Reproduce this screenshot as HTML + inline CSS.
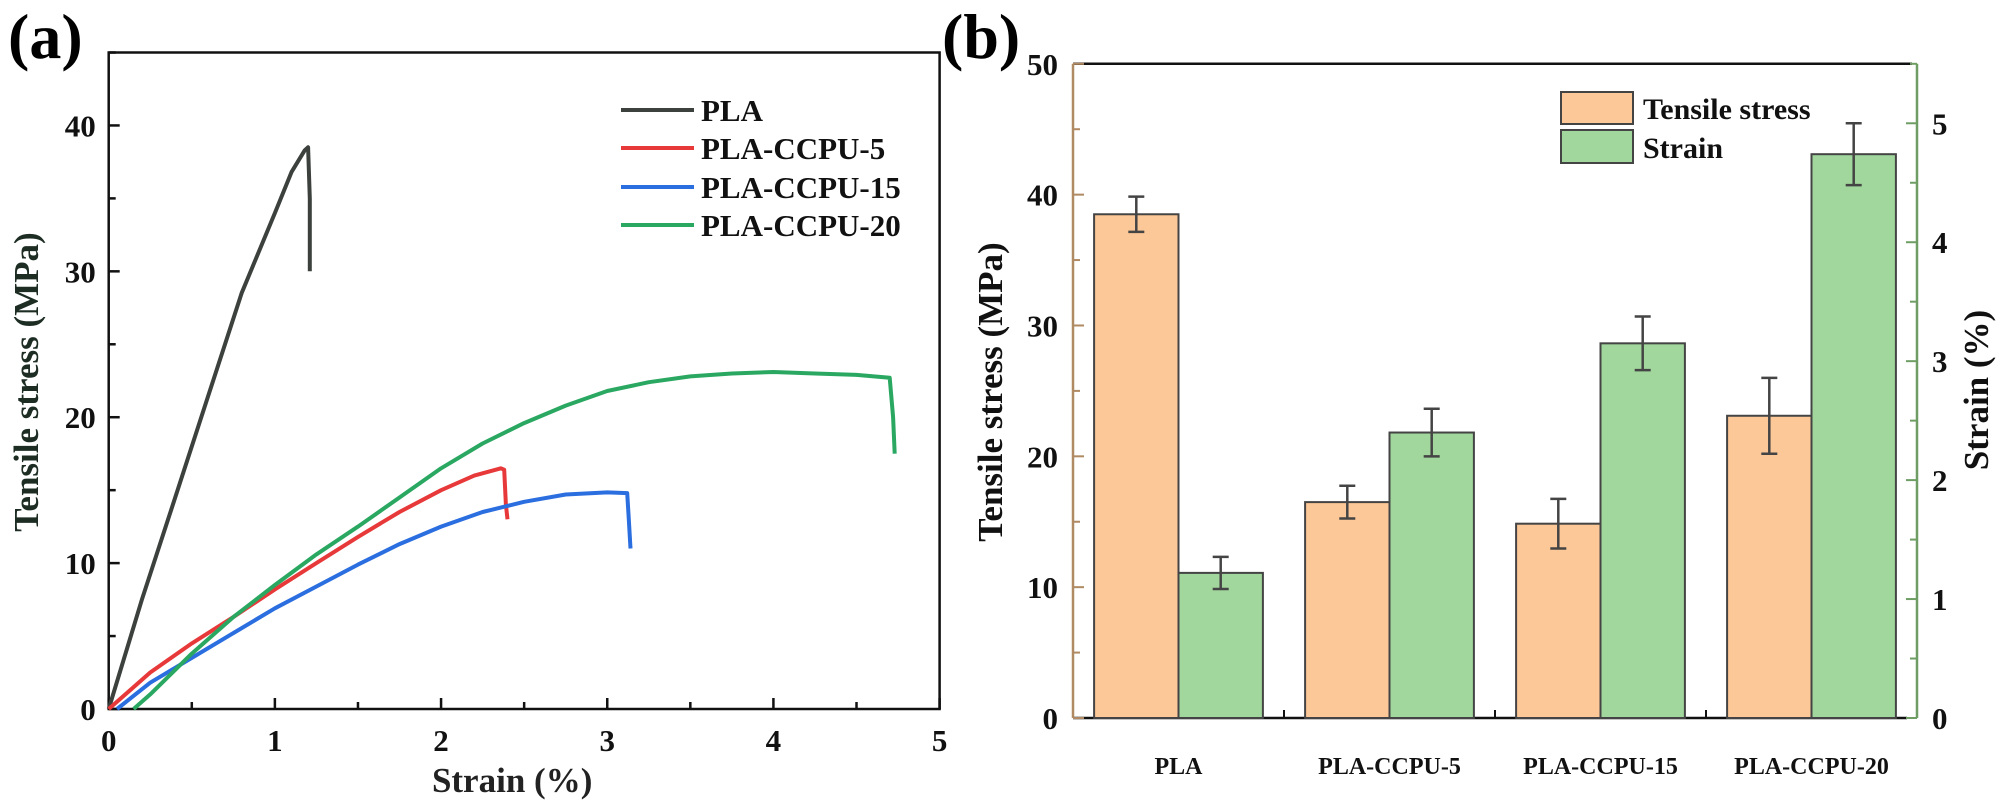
<!DOCTYPE html>
<html><head><meta charset="utf-8"><style>
html,body{margin:0;padding:0;background:#fff}
svg{display:block}
text{font-family:"Liberation Serif",serif;font-weight:bold}
</style></head><body>
<svg id="chart" width="2000" height="811" viewBox="0 0 2000 811" xmlns="http://www.w3.org/2000/svg">
<g id="pa"></g>
<g id="pb"></g>
</svg>
<script>
// Panel (a) data
const plaX=[0,0.2,0.4,0.6,0.8,1.0,1.1,1.18,1.2,1.21,1.21];
const plaY=[0,7.5,14.5,21.5,28.5,34,36.8,38.3,38.5,35,30];
const p5X=[0,0.25,0.5,0.75,1,1.25,1.5,1.75,2,2.2,2.36,2.38,2.39,2.4];
const p5Y=[0,2.5,4.5,6.3,8.2,10,11.8,13.5,15,16,16.5,16.4,14,13];
const p15X=[0.05,0.25,0.5,0.75,1,1.25,1.5,1.75,2,2.25,2.5,2.75,3,3.12,3.13,3.14];
const p15Y=[0,1.8,3.5,5.2,6.9,8.4,9.9,11.3,12.5,13.5,14.2,14.7,14.85,14.8,13,11];
const p20X=[0.15,0.25,0.5,0.75,1,1.25,1.5,1.75,2,2.25,2.5,2.75,3,3.25,3.5,3.75,4,4.25,4.5,4.7,4.72,4.73];
const p20Y=[0,1,3.8,6.3,8.5,10.6,12.5,14.5,16.5,18.2,19.6,20.8,21.8,22.4,22.8,23,23.1,23,22.9,22.7,20,17.5];
const seriesNames=["PLA","PLA-CCPU-5","PLA-CCPU-15","PLA-CCPU-20"];
const xTicksA=[0,1,2,3,4,5];
const yTicksA=[0,10,20,30,40];
// Panel (b) data
const categories=["PLA","PLA-CCPU-5","PLA-CCPU-15","PLA-CCPU-20"];
const stress=[38.5,16.5,14.85,23.1];
const stressErr=[1.35,1.25,1.9,2.9];
const strain=[1.22,2.4,3.15,4.74];
const strainErr=[0.135,0.2,0.225,0.26];
const yTicksBL=[0,10,20,30,40,50];
const yTicksBR=[0,1,2,3,4,5];

const NS="http://www.w3.org/2000/svg";
function mk(parent,tag,attrs,name,txt){
  const e=document.createElementNS(NS,tag);
  for(const k in attrs)e.setAttribute(k,attrs[k]);
  
  
  if(txt!==undefined)e.textContent=txt;
  parent.appendChild(e);return e;
}
// ---- Panel A
const A=document.getElementById('pa');
const ax0=108.7,ax1=939.6,ay0=709,ay1=52.5;
const xA=v=>ax0+(ax1-ax0)*v/5;
const yA=v=>ay0-(ay0-ay1)*v/45;
mk(A,'text',{x:8,y:58,'font-size':64},'panel-a-label','(a)');
mk(A,'rect',{x:ax0,y:ay1,width:ax1-ax0,height:ay0-ay1,fill:'none',stroke:'#111','stroke-width':2.5},'plot-frame-a');
for(let v=0;v<=5;v+=0.5){const x=xA(v);const L=Number.isInteger(v)?11:7;
  mk(A,'line',{x1:x,y1:ay0,x2:x,y2:ay0-L,stroke:'#111','stroke-width':2.5},'x-tick-a');}
for(let v=0;v<=45;v+=5){const y=yA(v);const L=v%10===0?11:7;
  mk(A,'line',{x1:ax0,y1:y,x2:ax0+L,y2:y,stroke:'#111','stroke-width':2.5},'y-tick-a');}
xTicksA.forEach(v=>mk(A,'text',{x:xA(v),y:ay0+42,'font-size':31,'text-anchor':'middle',fill:'#111'},'x-tick-label-a',String(v)));
yTicksA.forEach(v=>mk(A,'text',{x:ax0-13,y:yA(v)+11,'font-size':31,'text-anchor':'end',fill:'#111'},'y-tick-label-a',String(v)));
mk(A,'text',{x:(ax0+ax1)/2-12,y:792,'font-size':35,'text-anchor':'middle',fill:'#222'},'x-axis-title-a','Strain (%)');
mk(A,'text',{x:0,y:0,'font-size':35,'text-anchor':'middle',fill:'#1d2d24',transform:'translate(38,382) rotate(-90)'},'y-axis-title-a','Tensile stress (MPa)');
const colors=["#3c413e","#e8393a","#2b6ee0","#2aa862"];
const xs=[plaX,p5X,p15X,p20X],ys=[plaY,p5Y,p15Y,p20Y];
xs.forEach((X,i)=>{const d=X.map((v,j)=>(j?'L':'M')+xA(v).toFixed(1)+','+yA(ys[i][j]).toFixed(1)).join(' ');
  mk(A,'path',{d:d,fill:'none',stroke:colors[i],'stroke-width':4,'stroke-linejoin':'round'},'curve-'+seriesNames[i].toLowerCase());});
const legY=[110,148,187,225];
seriesNames.forEach((n,i)=>{
  mk(A,'line',{x1:621,y1:legY[i],x2:694,y2:legY[i],stroke:colors[i],'stroke-width':4},'legend-line-'+i);
  mk(A,'text',{x:701,y:legY[i]+11,'font-size':31,fill:'#111'},'legend-label-'+i,n);});
// ---- Panel B
const B=document.getElementById('pb');
const bx0=1073,bx1=1917,by0=718,by1=63.8;
const band=(bx1-bx0)/4;
const yL=v=>by0-(by0-by1)*v/50;
const yR=v=>by0-(by0-by1)*v/5.5;
mk(B,'text',{x:942,y:58,'font-size':64},'panel-b-label','(b)');
mk(B,'line',{x1:bx0,y1:by1,x2:bx1-5,y2:by1,stroke:'#111','stroke-width':2.5},'top-frame-b');
mk(B,'line',{x1:bx0,y1:by0,x2:bx1-10,y2:by0,stroke:'#111','stroke-width':2.5},'x-axis-b');
mk(B,'line',{x1:bx0,y1:by1,x2:bx0,y2:by0,stroke:'#b08a62','stroke-width':2.5},'left-axis-b');
mk(B,'line',{x1:bx1,y1:by1,x2:bx1,y2:by0,stroke:'#6f9e64','stroke-width':2.5},'right-axis-b');
for(let v=0;v<=50;v+=5){const y=yL(v);const L=v%10===0?11:7;
  mk(B,'line',{x1:bx0,y1:y,x2:bx0+L,y2:y,stroke:'#b08a62','stroke-width':2},'y-tick-left-b');}
for(let v=0;v<=5.5;v+=0.5){const y=yR(v);const L=Number.isInteger(v)?11:7;
  mk(B,'line',{x1:bx1,y1:y,x2:bx1-L,y2:y,stroke:'#6f9e64','stroke-width':2},'y-tick-right-b');}
yTicksBL.forEach(v=>mk(B,'text',{x:bx0-15,y:yL(v)+11,'font-size':31,'text-anchor':'end',fill:'#111'},'y-tick-label-left-b',String(v)));
yTicksBR.forEach(v=>mk(B,'text',{x:bx1+15,y:yR(v)+11,'font-size':31,fill:'#111'},'y-tick-label-right-b',String(v)));
mk(B,'text',{x:0,y:0,'font-size':35,'text-anchor':'middle',fill:'#111',transform:'translate(1002,392) rotate(-90)'},'y-axis-title-left-b','Tensile stress (MPa)');
mk(B,'text',{x:0,y:0,'font-size':35,'text-anchor':'middle',fill:'#111',transform:'translate(1988,390) rotate(-90)'},'y-axis-title-right-b','Strain (%)');
const bw=band*0.4;
categories.forEach((c,i)=>{
  const cx=bx0+band*(i+0.5);
  if(i>0)mk(B,'line',{x1:bx0+band*i,y1:by0,x2:bx0+band*i,y2:by0-8,stroke:'#111','stroke-width':2},'category-tick');
  mk(B,'rect',{x:cx-bw,y:yL(stress[i]),width:bw,height:by0-yL(stress[i]),fill:'#fdc897',stroke:'#444','stroke-width':2},'bar-stress-'+i);
  mk(B,'rect',{x:cx,y:yR(strain[i]),width:bw,height:by0-yR(strain[i]),fill:'#a1d69c',stroke:'#444','stroke-width':2},'bar-strain-'+i);
  const ex1=cx-bw/2,ex2=cx+bw/2;
  [[ex1,yL(stress[i]+stressErr[i]),yL(stress[i]-stressErr[i]),'error-bar-stress-'],[ex2,yR(strain[i]+strainErr[i]),yR(strain[i]-strainErr[i]),'error-bar-strain-']].forEach(e=>{
    mk(B,'path',{d:`M${e[0]},${e[1]}V${e[2]}M${e[0]-8},${e[1]}h16M${e[0]-8},${e[2]}h16`,fill:'none',stroke:'#444','stroke-width':2.5},e[3]+i);});
  mk(B,'text',{x:cx,y:774,'font-size':24,'text-anchor':'middle',fill:'#111'},'category-label-'+i,c);
});
mk(B,'rect',{x:1561,y:92,width:72,height:32,fill:'#fdc897',stroke:'#444','stroke-width':2},'legend-swatch-stress');
mk(B,'rect',{x:1561,y:130,width:72,height:33,fill:'#a1d69c',stroke:'#444','stroke-width':2},'legend-swatch-strain');
mk(B,'text',{x:1643,y:119,'font-size':30,fill:'#111'},'legend-label-stress','Tensile stress');
mk(B,'text',{x:1643,y:158,'font-size':30,fill:'#111'},'legend-label-strain','Strain');
</script>
</body></html>
